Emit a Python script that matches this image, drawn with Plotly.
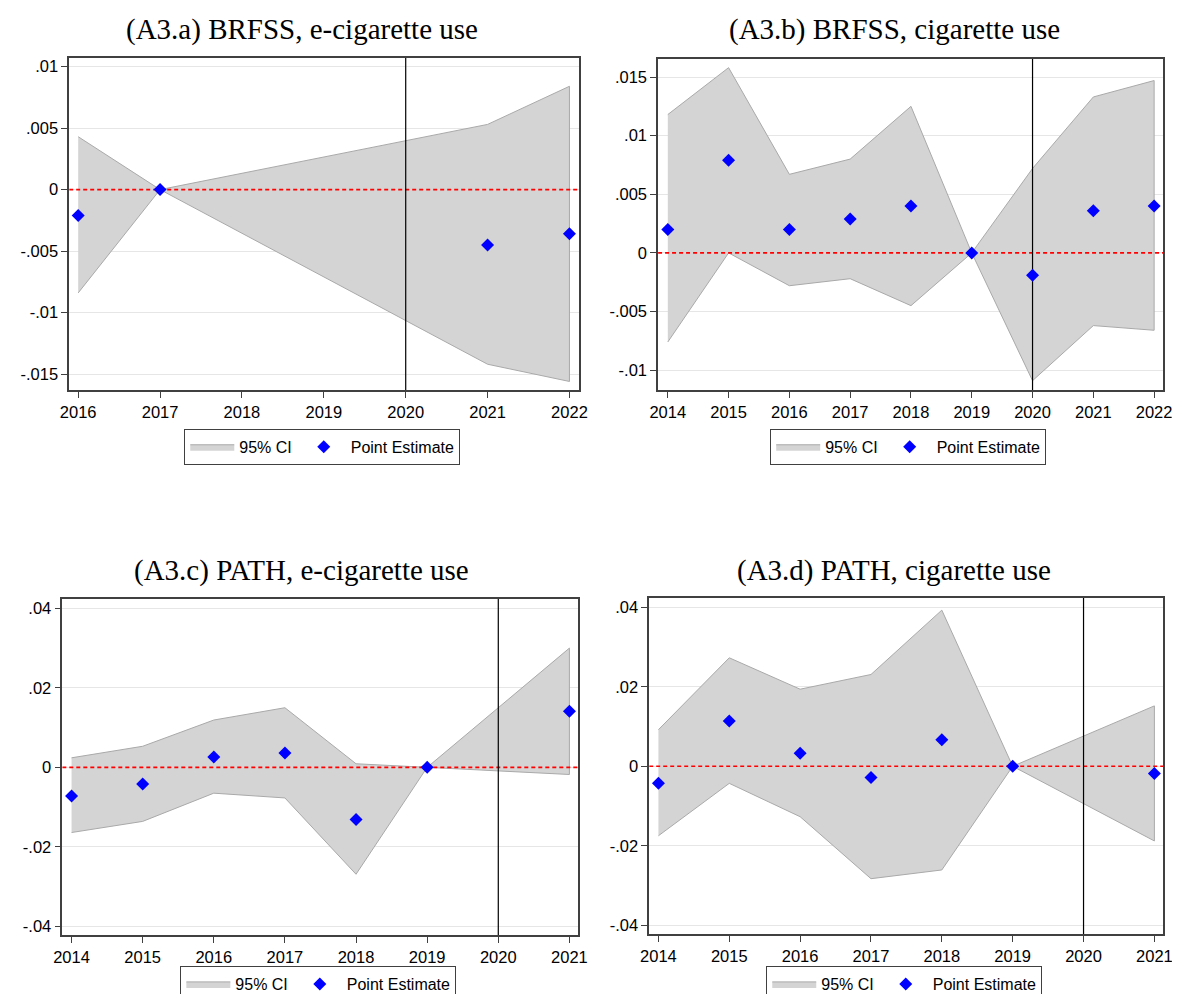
import plotly.graph_objects as go

# ---------------- data ----------------
titles = ["(A3.a) BRFSS, e-cigarette use", "(A3.b) BRFSS, cigarette use",
          "(A3.c) PATH, e-cigarette use", "(A3.d) PATH, cigarette use"]

years_a = [2016, 2017, 2021, 2022]
est_a = [-0.0021, 0.0, -0.0045, -0.0036]
lo_a = [-0.0084, 0.0, -0.0142, -0.0156]
hi_a = [0.0043, 0.0, 0.0053, 0.0084]

years_b = [2014, 2015, 2016, 2017, 2018, 2019, 2020, 2021, 2022]
est_b = [0.0020, 0.0079, 0.0020, 0.0029, 0.0040, 0.0, -0.0019, 0.0036, 0.0040]
lo_b = [-0.0076, 0.0, -0.0028, -0.0022, -0.0045, 0.0, -0.0109, -0.0062, -0.0066]
hi_b = [0.0118, 0.0158, 0.0067, 0.0080, 0.0125, 0.0, 0.0072, 0.0133, 0.0147]

years_c = [2014, 2015, 2016, 2017, 2018, 2019, 2021]
est_c = [-0.0072, -0.0042, 0.0026, 0.0036, -0.0131, 0.0, 0.0141]
lo_c = [-0.0164, -0.0136, -0.0065, -0.0077, -0.0269, 0.0, -0.0018]
hi_c = [0.0024, 0.0053, 0.0119, 0.0150, 0.0009, 0.0, 0.0300]

years_d = [2014, 2015, 2016, 2017, 2018, 2019, 2021]
est_d = [-0.0043, 0.0114, 0.0033, -0.0028, 0.0067, 0.0, -0.0018]
lo_d = [-0.0175, -0.0043, -0.0127, -0.0283, -0.0261, 0.0, -0.0188]
hi_d = [0.0092, 0.0273, 0.0194, 0.0231, 0.0393, 0.0, 0.0152]

xticks_a = [2016, 2017, 2018, 2019, 2020, 2021, 2022]
xticks_b = [2014, 2015, 2016, 2017, 2018, 2019, 2020, 2021, 2022]
xticks_cd = [2014, 2015, 2016, 2017, 2018, 2019, 2020, 2021]

yticks_a = [0.01, 0.005, 0, -0.005, -0.01, -0.015]
ylabels_a = [".01", ".005", "0", "-.005", "-.01", "-.015"]
yticks_b = [0.015, 0.01, 0.005, 0, -0.005, -0.01]
ylabels_b = [".015", ".01", ".005", "0", "-.005", "-.01"]
yticks_cd = [0.04, 0.02, 0, -0.02, -0.04]
ylabels_cd = [".04", ".02", "0", "-.02", "-.04"]

policy_year = 2020
ci_name = "95% CI"
pt_name = "Point Estimate"

# ---------------- styling / layout ----------------
FONT = "Arial, Liberation Sans, sans-serif"
TFONT = "Times New Roman, Liberation Serif, serif"

panels = [
    dict(years=years_a, est=est_a, lo=lo_a, hi=hi_a, xt=xticks_a, yt=yticks_a, yl=ylabels_a,
         xr=[2015.89, 2022.12], yr=[-0.0163, 0.01072],
         xd=[53 / 1180, 571 / 1180], yd=[1 - 384 / 994, 1 - 50 / 994],
         tx=289 / 1180, ty=1 - 22 / 994, lx=310 / 1180, ly=1 - 423 / 994),
    dict(years=years_b, est=est_b, lo=lo_b, hi=hi_b, xt=xticks_b, yt=yticks_b, yl=ylabels_b,
         xr=[2013.84, 2022.15], yr=[-0.0117, 0.01656],
         xd=[651 / 1180, 1164 / 1180], yd=[1 - 384 / 994, 1 - 51 / 994],
         tx=891 / 1180, ty=1 - 22 / 994, lx=905 / 1180, ly=1 - 423 / 994),
    dict(years=years_c, est=est_c, lo=lo_c, hi=hi_c, xt=xticks_cd, yt=yticks_cd, yl=ylabels_cd,
         xr=[2013.87, 2021.125], yr=[-0.04226, 0.04235],
         xd=[46 / 1180, 570 / 1180], yd=[1 - 932 / 994, 1 - 594 / 994],
         tx=289 / 1180, ty=1 - 565 / 994, lx=306 / 1180, ly=1 - 963 / 994),
    dict(years=years_d, est=est_d, lo=lo_d, hi=hi_d, xt=xticks_cd, yt=yticks_cd, yl=ylabels_cd,
         xr=[2013.87, 2021.125], yr=[-0.0423, 0.04235],
         xd=[642 / 1180, 1164 / 1180], yd=[1 - 931 / 994, 1 - 593 / 994],
         tx=891 / 1180, ty=1 - 565 / 994, lx=901 / 1180, ly=1 - 963 / 994),
]

fig = go.Figure()
annotations = []
layout_extra = {}

for i, p in enumerate(panels):
    n = "" if i == 0 else str(i + 1)
    xa, ya = "x" + n, "y" + n
    lg = "legend" + n

    # CI band (polygon: upper forward, lower backward)
    fig.add_trace(go.Scatter(
        x=p["years"] + p["years"][::-1],
        y=p["hi"] + p["lo"][::-1],
        fill="toself", fillcolor="#d4d4d4",
        line=dict(color="#a9a9a9", width=1),
        mode="lines", name=ci_name, xaxis=xa, yaxis=ya, legend=lg,
        hoverinfo="skip"))
    # zero reference line (red dashed)
    fig.add_trace(go.Scatter(
        x=p["xr"], y=[0, 0], mode="lines",
        line=dict(color="#ff0000", width=1.6, dash="4px,3px"),
        showlegend=False, xaxis=xa, yaxis=ya, hoverinfo="skip"))
    # policy year vertical line
    fig.add_trace(go.Scatter(
        x=[policy_year, policy_year], y=p["yr"], mode="lines",
        line=dict(color="#000000", width=1.2),
        showlegend=False, xaxis=xa, yaxis=ya, hoverinfo="skip"))
    # point estimates
    fig.add_trace(go.Scatter(
        x=p["years"], y=p["est"], mode="markers",
        marker=dict(symbol="diamond", color="#0000ff", size=10),
        name=pt_name, xaxis=xa, yaxis=ya, legend=lg))

    layout_extra["xaxis" + n] = dict(
        domain=p["xd"], anchor=ya, range=p["xr"], tickmode="array", tickvals=p["xt"],
        ticks="outside", ticklen=6, tickcolor="#404040", showgrid=False, zeroline=False,
        showline=True, linecolor="#404040", linewidth=1.5, mirror=True,
        tickfont=dict(family=FONT, size=16.5, color="#000000"))
    layout_extra["yaxis" + n] = dict(
        domain=p["yd"], anchor=xa, range=p["yr"], tickmode="array", tickvals=p["yt"],
        ticktext=p["yl"], ticks="outside", ticklen=6, tickcolor="#404040",
        showgrid=True, gridcolor="#e6e6e6", gridwidth=1, zeroline=False,
        showline=True, linecolor="#404040", linewidth=1.5, mirror=True,
        tickfont=dict(family=FONT, size=16.5, color="#000000"))
    layout_extra[lg] = dict(
        x=p["lx"], y=p["ly"], xanchor="center", yanchor="top", orientation="h",
        bordercolor="#404040", borderwidth=1, bgcolor="white",
        font=dict(family=FONT, size=16, color="#000000"),
        itemwidth=44, tracegroupgap=0)
    annotations.append(dict(
        text=titles[i], x=p["tx"], y=p["ty"], xref="paper", yref="paper",
        xanchor="center", yanchor="middle", showarrow=False,
        font=dict(family=TFONT, size=29, color="#000000")))

fig.update_layout(
    width=1180, height=994, margin=dict(l=0, r=0, t=0, b=0),
    paper_bgcolor="white", plot_bgcolor="white",
    annotations=annotations, **layout_extra)

fig.write_html("out.html")
